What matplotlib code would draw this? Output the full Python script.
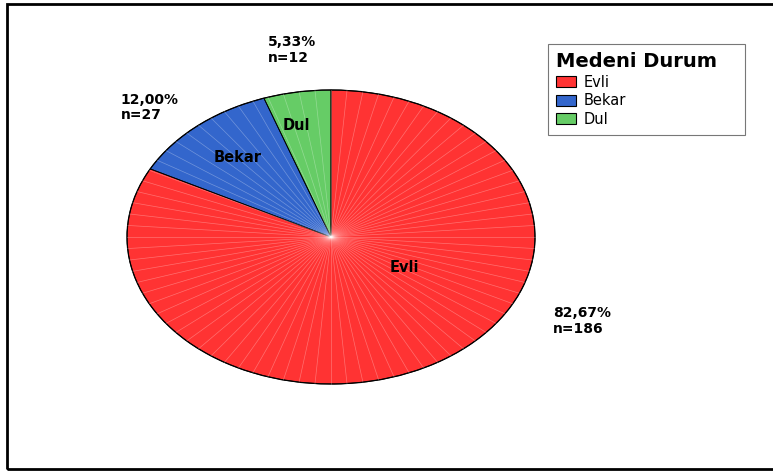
import numpy as np
import matplotlib.pyplot as plt
from matplotlib.patches import Rectangle, Circle, PathPatch

# data
categories = ['Evli', 'Bekar', 'Dul']
counts = [186, 27, 12]
colors = ['#ff3333', '#3366cc', '#66cc66']
legend_title = 'Medeni Durum'

plt.rcParams['font.family'] = ['DejaVu Sans']

fig = plt.figure(figsize=(7.73, 4.72), dpi=100)

# outer frame (runs off the right edge as in the original)
frame = Rectangle((7 / 773, 3 / 472), 800 / 773, 465 / 472, transform=fig.transFigure,
                  fill=False, edgecolor='black', linewidth=2, clip_on=False)
fig.patches.append(frame)

# axes placed so the unit pie becomes the ellipse of the original
ax = fig.add_axes([127 / 773, (472 - 384) / 472, 408 / 773, 294 / 472])
wedges, _ = ax.pie(counts, colors=colors, startangle=90, counterclock=False,
                   wedgeprops=dict(linewidth=0))
ax.set_aspect('auto')
ax.set_xlim(-1, 1)
ax.set_ylim(-1, 1)
ax.axis('off')
for w in wedges:
    w.set_clip_on(False)

# faint radial shading lines
for t in np.arange(0, 360, 4.5):
    a = np.radians(t)
    ax.plot([0, np.cos(a)], [0, np.sin(a)], color='white', lw=0.5, alpha=0.3,
            clip_on=False)

# dark wedge borders on top of the shading
for w in wedges:
    ax.add_patch(PathPatch(w.get_path(), transform=w.get_transform(), fill=False,
                           edgecolor='black', lw=0.6, clip_on=False))
ax.add_patch(Circle((0, 0), 1, fill=False, edgecolor='black', lw=0.9, clip_on=False))

total = sum(counts)
inner_pos = {'Evli': (0.36, -0.21), 'Bekar': (-0.46, 0.54), 'Dul': (-0.17, 0.76)}
outer_pos = {'Evli': (1.09, -0.57), 'Bekar': (-1.03, 0.88), 'Dul': (-0.31, 1.27)}
for cat, n in zip(categories, counts):
    x, y = inner_pos[cat]
    ax.text(x, y, cat, ha='center', va='center', fontsize=10.5, fontweight='bold')
    pct = f'{100 * n / total:.2f}'.replace('.', ',')
    x, y = outer_pos[cat]
    ax.text(x, y, f'{pct}%\nn={n}', ha='left', va='center', fontsize=10,
            fontweight='bold', linespacing=1.15, clip_on=False)

handles = [Rectangle((0, 0), 1, 1, facecolor=c, edgecolor='black', lw=0.8) for c in colors]
leg = fig.legend(handles, categories, title=legend_title, loc='upper left',
                 bbox_to_anchor=(548 / 773, 1 - 44 / 472, 197 / 773, 0.0), mode='expand',
                 frameon=True, fancybox=False, edgecolor='#555555', fontsize=10.5,
                 title_fontproperties={'weight': 'bold', 'size': 14},
                 handlelength=1.4, handleheight=0.8, handletextpad=0.5, labelspacing=0.25,
                 borderpad=0.55, borderaxespad=0, alignment='left')
leg.get_frame().set_linewidth(0.8)

fig.savefig('out.png', dpi=100)
